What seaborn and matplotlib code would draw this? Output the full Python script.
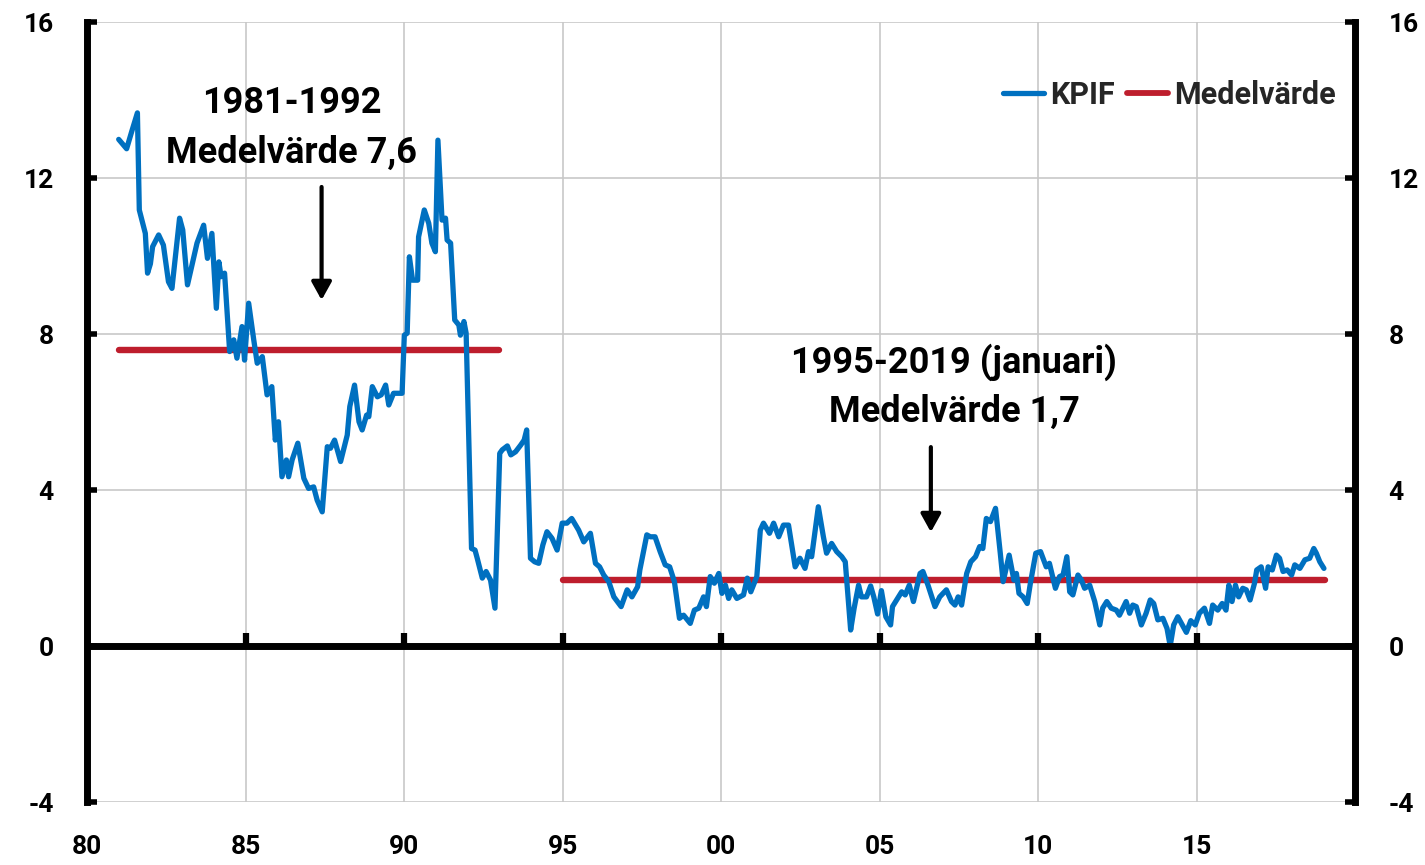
import matplotlib
matplotlib.use("Agg")
import matplotlib.pyplot as plt
from matplotlib.lines import Line2D
import seaborn as sns
import pandas as pd
import numpy as np

# ---------------- data ----------------
kpif_year = [
    1981.00, 1981.25, 1981.41, 1981.59, 1981.65, 1981.84, 1981.91, 1982.00, 1982.07, 1982.26,
    1982.41, 1982.57, 1982.68, 1982.92, 1983.02, 1983.17, 1983.47, 1983.68, 1983.80, 1983.94,
    1984.08, 1984.16, 1984.23, 1984.34, 1984.50, 1984.63, 1984.73, 1984.89, 1984.97, 1985.10,
    1985.26, 1985.37, 1985.53, 1985.68, 1985.83, 1985.94, 1986.04, 1986.15, 1986.29, 1986.36,
    1986.47, 1986.65, 1986.84, 1986.99, 1987.15, 1987.26, 1987.42, 1987.58, 1987.68, 1987.81,
    1988.00, 1988.21, 1988.29, 1988.44, 1988.58, 1988.68, 1988.82, 1988.89, 1989.00, 1989.16,
    1989.28, 1989.42, 1989.52, 1989.67, 1989.94, 1990.01, 1990.10, 1990.17, 1990.27, 1990.43,
    1990.46, 1990.64, 1990.78, 1990.88, 1990.99, 1991.07, 1991.20, 1991.31, 1991.36, 1991.47,
    1991.60, 1991.73, 1991.78, 1991.89, 1991.96, 1992.13, 1992.24, 1992.31, 1992.47, 1992.59,
    1992.73, 1992.87, 1993.02, 1993.10, 1993.26, 1993.37, 1993.52, 1993.68, 1993.79, 1993.87,
    1993.99, 1994.12, 1994.25, 1994.38, 1994.51, 1994.67, 1994.83, 1994.99, 1995.14, 1995.29,
    1995.51, 1995.67, 1995.88, 1996.04, 1996.17, 1996.30, 1996.46, 1996.62, 1996.85, 1997.04,
    1997.19, 1997.37, 1997.44, 1997.66, 1997.77, 1997.92, 1998.08, 1998.24, 1998.38, 1998.53,
    1998.69, 1998.82, 1999.03, 1999.16, 1999.30, 1999.45, 1999.54, 1999.66, 1999.79, 1999.93,
    2000.03, 2000.14, 2000.24, 2000.34, 2000.50, 2000.71, 2000.83, 2000.94, 2001.13, 2001.24,
    2001.34, 2001.53, 2001.66, 2001.82, 2001.97, 2002.13, 2002.34, 2002.49, 2002.65, 2002.76,
    2002.86, 2003.07, 2003.23, 2003.33, 2003.49, 2003.65, 2003.81, 2003.92, 2004.09, 2004.20,
    2004.34, 2004.43, 2004.59, 2004.72, 2004.82, 2004.94, 2005.06, 2005.20, 2005.35, 2005.41,
    2005.54, 2005.70, 2005.81, 2005.94, 2006.07, 2006.28, 2006.37, 2006.53, 2006.75, 2006.90,
    2007.11, 2007.27, 2007.38, 2007.48, 2007.59, 2007.75, 2007.88, 2008.03, 2008.16, 2008.26,
    2008.37, 2008.50, 2008.66, 2008.81, 2008.90, 2009.09, 2009.24, 2009.32, 2009.40, 2009.53,
    2009.66, 2009.76, 2009.93, 2010.08, 2010.26, 2010.36, 2010.55, 2010.68, 2010.79, 2010.91,
    2011.00, 2011.10, 2011.26, 2011.37, 2011.47, 2011.63, 2011.79, 2011.95, 2012.04, 2012.17,
    2012.31, 2012.47, 2012.57, 2012.68, 2012.78, 2012.89, 2012.99, 2013.10, 2013.26, 2013.41,
    2013.54, 2013.65, 2013.78, 2013.94, 2014.07, 2014.17, 2014.28, 2014.41, 2014.55, 2014.68,
    2014.82, 2014.96, 2015.09, 2015.25, 2015.41, 2015.51, 2015.67, 2015.81, 2015.93, 2016.02,
    2016.12, 2016.23, 2016.33, 2016.46, 2016.57, 2016.69, 2016.83, 2016.90, 2017.04, 2017.18,
    2017.26, 2017.39, 2017.52, 2017.62, 2017.73, 2017.86, 2018.00, 2018.10, 2018.26, 2018.42,
    2018.57, 2018.70, 2018.78, 2018.89, 2019.02,
]
kpif_value = [
    12.99, 12.75, 13.19, 13.67, 11.18, 10.58, 9.56, 9.80, 10.24, 10.54,
    10.28, 9.34, 9.17, 10.97, 10.67, 9.26, 10.33, 10.79, 9.94, 10.58,
    8.66, 9.85, 9.47, 9.56, 7.55, 7.85, 7.38, 8.19, 7.33, 8.79,
    7.85, 7.25, 7.42, 6.44, 6.65, 5.28, 5.75, 4.34, 4.77, 4.34,
    4.77, 5.20, 4.30, 4.04, 4.08, 3.74, 3.44, 5.11, 5.07, 5.28,
    4.73, 5.41, 6.14, 6.69, 5.75, 5.54, 5.92, 5.88, 6.65, 6.39,
    6.44, 6.69, 6.18, 6.48, 6.48, 7.97, 8.02, 9.98, 9.38, 9.38,
    10.49, 11.18, 10.84, 10.33, 10.11, 12.97, 10.92, 10.97, 10.41, 10.33,
    8.36, 8.23, 7.97, 8.32, 8.02, 2.50, 2.46, 2.25, 1.74, 1.91,
    1.69, 0.97, 4.94, 5.03, 5.13, 4.90, 4.98, 5.15, 5.28, 5.54,
    2.25, 2.16, 2.12, 2.59, 2.93, 2.76, 2.46, 3.15, 3.15, 3.27,
    2.97, 2.67, 2.89, 2.12, 2.03, 1.82, 1.65, 1.26, 1.01, 1.44,
    1.26, 1.52, 1.95, 2.85, 2.80, 2.80, 2.42, 2.08, 2.03, 1.65,
    0.71, 0.79, 0.58, 0.92, 0.97, 1.26, 1.01, 1.78, 1.61, 1.86,
    1.35, 1.56, 1.22, 1.44, 1.22, 1.31, 1.74, 1.39, 1.78, 2.97,
    3.15, 2.89, 3.15, 2.80, 3.10, 3.10, 2.03, 2.25, 1.99, 2.42,
    2.29, 3.57, 2.80, 2.38, 2.63, 2.42, 2.29, 2.16, 0.41, 0.97,
    1.56, 1.26, 1.26, 1.54, 1.26, 0.82, 1.42, 0.75, 0.54, 1.01,
    1.18, 1.39, 1.31, 1.56, 1.14, 1.86, 1.91, 1.56, 1.01, 1.26,
    1.44, 1.14, 1.05, 1.26, 1.05, 1.86, 2.16, 2.29, 2.55, 2.50,
    3.27, 3.19, 3.53, 2.38, 1.65, 2.33, 1.69, 1.86, 1.35, 1.26,
    1.09, 1.61, 2.38, 2.42, 2.03, 2.12, 1.48, 1.78, 1.82, 2.29,
    1.39, 1.31, 1.82, 1.69, 1.48, 1.56, 1.14, 0.54, 0.97, 1.14,
    0.97, 0.92, 0.79, 0.97, 1.14, 0.84, 1.05, 1.01, 0.54, 0.84,
    1.18, 1.09, 0.67, 0.71, 0.45, 0.00, 0.54, 0.75, 0.54, 0.35,
    0.65, 0.54, 0.84, 0.97, 0.58, 1.05, 0.92, 1.09, 0.92, 1.56,
    1.14, 1.56, 1.26, 1.48, 1.44, 1.18, 1.61, 1.95, 2.03, 1.48,
    2.03, 1.95, 2.33, 2.25, 1.91, 1.95, 1.82, 2.08, 1.99, 2.21,
    2.25, 2.50, 2.38, 2.16, 1.99,
]

mean_period = ["1981-1992", "1981-1992", "1995-2019", "1995-2019"]
mean_year = [1981.0, 1993.0, 1995.0, 2019.05]
mean_value = [7.6, 7.6, 1.7, 1.7]

x_ticks = [1980, 1985, 1990, 1995, 2000, 2005, 2010, 2015]
x_labels = ["80", "85", "90", "95", "00", "05", "10", "15"]
y_ticks = [-4, 0, 4, 8, 12, 16]

series_names = ["KPIF", "Medelvärde"]
ann1 = ["1981-1992", "Medelvärde 7,6"]
ann2 = ["1995-2019 (januari)", "Medelvärde 1,7"]

BLUE = "#0070C0"
RED = "#BE1E2D"
FONT = ["Roboto", "DejaVu Sans"]

# ---------------- figure ----------------
sns.set_theme(style="white")
plt.rcParams["font.family"] = FONT
plt.rcParams["font.weight"] = "bold"
plt.rcParams["axes.unicode_minus"] = False

fig = plt.figure(figsize=(14.25, 8.65), dpi=100)
ax = fig.add_axes([87 / 1425, 1 - 802 / 865, (1355 - 87) / 1425, (802 - 22) / 865])

kpif_df = pd.DataFrame({"year": kpif_year, "value": kpif_value})
mean_df = pd.DataFrame({"period": mean_period, "year": mean_year, "value": mean_value})

sns.lineplot(data=mean_df, x="year", y="value", units="period", estimator=None,
             color=RED, lw=4.6, ax=ax, solid_capstyle="round", zorder=3)
sns.lineplot(data=kpif_df, x="year", y="value", sort=False, estimator=None,
             color=BLUE, lw=3.8, ax=ax, zorder=4)

ax.set_xlim(1980, 2020)
ax.set_ylim(-4, 16)
ax.set_xlabel("")
ax.set_ylabel("")

ax.set_xticks(x_ticks)
ax.set_xticklabels(x_labels)
ax.set_yticks(y_ticks)
ax.grid(True, color="#c8c8c8", lw=1.2, zorder=0)
ax.set_axisbelow(True)

for s in ["top", "bottom"]:
    ax.spines[s].set_visible(False)
for s in ["left", "right"]:
    ax.spines[s].set_visible(True)
    ax.spines[s].set_color("black")
    ax.spines[s].set_linewidth(5)

# zero line with its upward tick marks at the x tick positions
ax.axhline(0, color="black", lw=5, zorder=5)
ax.plot(x_ticks, [0] * len(x_ticks), ls="none", marker=2, ms=9.5, mew=4.5,
        color="black", zorder=5)

ax.tick_params(axis="y", which="major", left=True, right=True, labelleft=True, labelright=True,
               direction="in", length=7, width=4, color="black", pad=24, labelsize=19)
ax.tick_params(axis="x", which="major", bottom=False, length=0, pad=24, labelsize=19)
for lab in ax.get_xticklabels() + ax.get_yticklabels():
    lab.set_fontweight("bold")
    lab.set_color("black")

# annotations
tkw = dict(ha="center", va="center", fontsize=26, fontweight="bold", color="black", zorder=6)
ax.text(1986.45, 13.92, ann1[0], **tkw)
ax.text(1986.45, 12.64, ann1[1], **tkw)
ax.text(2007.35, 7.28, ann2[0], **tkw)
ax.text(2007.35, 6.0, ann2[1], **tkw)

akw = dict(arrowstyle="-|>,head_length=0.9,head_width=0.5", color="black", lw=3,
           shrinkA=0, shrinkB=0)
ax.annotate("", xy=(1987.40, 8.87), xytext=(1987.40, 11.77), arrowprops=akw)
ax.annotate("", xy=(2006.62, 2.92), xytext=(2006.62, 5.10), arrowprops=akw)

# legend
handles = [Line2D([0], [0], color=BLUE, lw=3.8, solid_capstyle="round"),
           Line2D([0], [0], color=RED, lw=4.2, solid_capstyle="round")]
leg = ax.legend(handles, series_names, loc="upper right", bbox_to_anchor=(0.985, 0.926),
                ncol=2, frameon=False, handlelength=1.35, handletextpad=0.2,
                columnspacing=0.4, borderaxespad=0, borderpad=0,
                prop={"family": FONT, "weight": "bold", "size": 22})

fig.savefig("out.png", dpi=100, facecolor="white")
